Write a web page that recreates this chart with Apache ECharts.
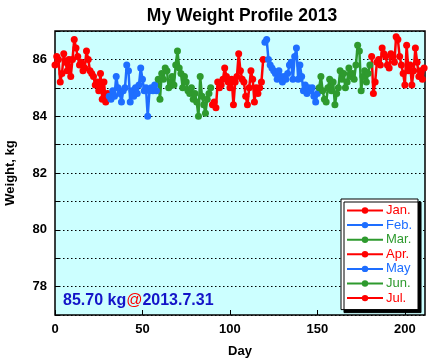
<!DOCTYPE html>
<html><head><meta charset="utf-8">
<script src="https://cdn.jsdelivr.net/npm/echarts@6/dist/echarts.min.js"></script>
<style>html,body{margin:0;padding:0;background:#fff}#c{width:429px;height:364px}</style>
</head><body><div id="c"></div>
<script>
const monthNames = ['Jan.','Feb.','Mar.','Apr.','May','Jun.','Jul.'];
const monthStartDays = [0,31,59,90,120,151,181];
const monthColors = ['#ff0000','#1e6eff','#2e9a2e','#ff0000','#1e6eff','#2e9a2e','#ff0000'];
const jan = [85.8,86.1,86.0,85.2,85.5,86.2,85.9,85.6,86.0,85.4,86.0,86.7,86.4,86.1,85.8,85.9,85.6,85.7,86.3,86.0,85.6,85.5,85.4,85.1,85.2,84.9,85.5,84.6,85.2,84.5,84.8];
const feb = [84.7,84.6,84.9,84.7,85.4,85.0,84.8,84.5,84.9,85.0,85.8,85.6,84.5,84.9,84.7,85.0,84.8,85.1,85.7,85.3,84.9,85.0,84.0,84.9,85.0,84.9,85.1,84.9];
const mar = [85.3,84.6,85.5,85.3,85.7,85.6,85.0,85.2,85.4,85.1,85.8,86.3,85.7,85.5,85.0,85.4,85.2,84.9,84.8,85.0,84.6,84.8,84.5,84.0,85.4,84.7,84.4,84.1,84.6,84.8,85.0];
const apr = [84.4,84.5,84.3,85.2,85.0,85.1,85.3,85.7,85.4,85.2,85.0,85.3,84.4,85.2,85.4,86.2,85.6,85.3,85.2,84.7,84.4,85.0,85.6,85.3,84.5,85.0,84.8,85.0,85.2,86.0];
const may = [86.6,86.7,86.0,85.8,85.7,85.6,85.5,85.3,85.6,85.4,85.2,85.4,85.3,85.5,85.8,85.9,85.3,86.1,86.4,85.3,85.8,85.4,84.9,85.1,84.8,85.0,84.9,85.0,84.7,84.5,84.8];
const jun = [85.0,85.4,84.9,84.6,84.5,85.0,85.3,84.9,85.2,84.4,84.8,85.0,85.6,85.3,85.5,85.0,85.2,85.7,85.4,85.5,85.3,85.8,86.5,86.3,84.9,85.4,85.6,85.2,85.5,85.8];
const jul = [86.1,84.8,85.2,85.9,86.0,85.8,86.4,86.2,86.1,85.8,85.7,86.2,86.1,85.9,86.8,86.7,86.1,85.8,85.5,85.1,86.5,85.6,85.8,85.1,85.6,86.4,85.9,85.4,85.6,85.3,85.7];
const monthValues = [jan,feb,mar,apr,may,jun,jul];
const yTicks = [78,80,82,84,86];
const xTicks = [0,50,100,150,200];

const series = monthValues.map((vals,i)=>({
  name: monthNames[i],
  type: 'line',
  data: vals.map((v,k)=>[monthStartDays[i]+k, v]),
  symbol: 'circle',
  symbolSize: 7,
  lineStyle: {width: 2.5, color: monthColors[i]},
  itemStyle: {color: monthColors[i]},
  animation: false,
  z: 3
}));

const chart = echarts.init(document.getElementById('c'), null, {renderer:'canvas'});
chart.setOption({
  animation: false,
  title: {text: 'My Weight Profile 2013', left: 237, textAlign: 'center', top: 2,
    textStyle: {fontFamily: 'Liberation Sans', fontWeight: 'bold', fontSize: 17.5, color: '#000'}},
  grid: {left: 55, right: 4, top: 31, bottom: 49, outerBoundsMode: 'none', containLabel: false,
    show: true, backgroundColor: '#ccffff', borderColor: '#000', borderWidth: 1.5},
  xAxis: {type: 'value', min: 0, max: 211.5, interval: 50,
    name: 'Day', nameLocation: 'middle', nameGap: 30,
    nameTextStyle: {fontFamily: 'Liberation Sans', fontWeight: 'bold', fontSize: 13, color: '#000'},
    axisLine: {show: false},
    axisTick: {show: true, inside: true, length: 5, lineStyle: {color: '#000', width: 1}},
    axisLabel: {showMaxLabel: false, margin: 8, fontFamily: 'Liberation Sans', fontWeight: 'bold', fontSize: 13, color: '#000',
      formatter: v => xTicks.includes(v) ? String(v) : ''},
    splitLine: {show: false}},
  yAxis: {type: 'value', min: 77, max: 87, interval: 1,
    name: 'Weight, kg', nameLocation: 'middle', nameGap: 38, nameRotate: 90,
    nameTextStyle: {fontFamily: 'Liberation Sans', fontWeight: 'bold', fontSize: 13, color: '#000'},
    axisLine: {show: false},
    axisTick: {show: true, inside: true, length: 5, lineStyle: {color: '#000', width: 1}},
    axisLabel: {margin: 8, fontFamily: 'Liberation Sans', fontWeight: 'bold', fontSize: 13, color: '#000',
      formatter: v => yTicks.includes(v) ? String(v) : ''},
    splitLine: {show: true, lineStyle: {color: '#000', type: [1.5,2.5], width: 1}}},
  legend: {
    orient: 'vertical', left: 341, top: 199, width: 76,
    backgroundColor: '#fff', borderColor: '#000', borderWidth: 1, borderRadius: 0,
    padding: [5, 6, 5, 5], itemGap: 1.6, itemWidth: 36, itemHeight: 8,
    shadowColor: '#000', shadowBlur: 0, shadowOffsetX: 3, shadowOffsetY: 3,
    data: monthNames.map((n,i)=>({name: n, textStyle: {color: monthColors[i]}})),
    textStyle: {fontFamily: 'Liberation Sans', fontSize: 13, padding: [0,0,0,-2]}
  },
  graphic: [{
    type: 'text', left: 63, top: 293, z: 10,
    style: {
      text: '{a|85.70 kg}{b|@}{a|2013.7.31}',
      rich: {
        a: {fontFamily: 'Liberation Sans', fontWeight: 'bold', fontSize: 16, fill: '#1414c8'},
        b: {fontFamily: 'Liberation Sans', fontWeight: 'normal', fontSize: 16, fill: '#ff0000'}
      }
    }
  }],
  series: series
});
</script></body></html>
